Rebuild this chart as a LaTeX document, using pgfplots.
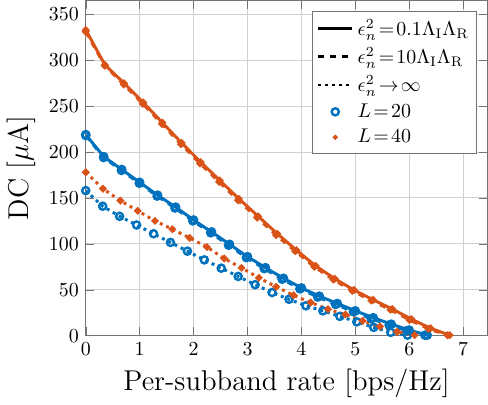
\documentclass[border=0pt]{standalone}
\usepackage{pgfplots}
\pgfplotsset{compat=1.18}
\definecolor{mblue}{RGB}{0,114,189}
\definecolor{morange}{RGB}{217,83,25}
\begin{document}
\begin{tikzpicture}
\begin{axis}[
  scale only axis,
  width=202pt, height=168.5pt,
  xmin=0, xmax=7.45, ymin=0, ymax=365,
  xtick={0,1,...,7}, ytick={0,50,...,350},
  grid=major, major grid style={draw=black!18, line width=0.5pt},
  axis line style={draw=black!55, line width=0.6pt},
  tick style={draw=black!55},
  tick align=inside,
  xlabel={\Large Per-subband rate [bps/Hz]},
  ylabel={\Large DC [$\mu$A]},
  legend style={at={(0.975,0.97)}, anchor=north east, draw=black!55, line width=0.6pt, font=\normalsize, row sep=0.5pt, inner sep=2pt},
  legend cell align=left,
]
\addlegendimage{black, line width=1.5pt}
\addlegendentry{$\epsilon_n^2\!=\!0.1\Lambda_{\mathrm{I}}\Lambda_{\mathrm{R}}$}
\addlegendimage{black, line width=1.5pt, dashed}
\addlegendentry{$\epsilon_n^2\!=\!10\Lambda_{\mathrm{I}}\Lambda_{\mathrm{R}}$}
\addlegendimage{black, line width=1.5pt, dotted}
\addlegendentry{$\epsilon_n^2\!\rightarrow\!\infty$}
\addlegendimage{only marks, mark=o, mark size=1.8pt, draw=mblue, line width=1.2pt}
\addlegendentry{$L\!=\!20$}
\addlegendimage{only marks, mark=*, mark size=1pt, draw=morange, fill=morange}
\addlegendentry{$L\!=\!40$}

% L=20, eps 0.1
\addplot[forget plot, mblue, line width=1.5pt, mark=o, mark size=1.8pt, mark options={solid, line width=1.2pt}] coordinates {
(0,219) (0.333,195) (0.667,181) (1,167) (1.333,153) (1.667,140) (2,126) (2.333,113) (2.667,99.5) (3,86)
(3.333,74) (3.667,62.5) (4,52) (4.333,43) (4.667,35) (5,27) (5.333,19.5) (5.667,12.5) (6,6) (6.333,0.5)};
% L=20, eps 10
\addplot[forget plot, mblue, line width=1.5pt, dashed, mark=o, mark size=1.8pt, mark options={solid, line width=1.2pt}] coordinates {
(0,218) (0.331,194) (0.662,180) (0.993,166) (1.324,152) (1.655,139) (1.986,125) (2.317,112) (2.648,98.5) (2.979,85)
(3.31,73) (3.641,61.5) (3.972,51) (4.303,42) (4.634,34) (4.965,26) (5.296,18.5) (5.627,11.5) (5.958,5.5) (6.29,0.5)};
% L=20, eps inf
\addplot[forget plot, mblue, line width=1.5pt, dotted, mark=o, mark size=1.8pt, mark options={solid, line width=1.2pt}] coordinates {
(0,158) (0.314,141) (0.628,130) (0.943,120.5) (1.257,111) (1.571,101.5) (1.885,92) (2.199,82.5) (2.513,73.5) (2.827,64.5)
(3.142,55.5) (3.456,47) (3.770,39.6) (4.084,32.5) (4.398,27) (4.712,21) (5.027,15) (5.341,9) (5.655,3.6) (5.969,0.5)};
% L=40, eps 0.1
\addplot[forget plot, morange, line width=1.5pt, mark=*, mark size=1pt, mark options={solid}] coordinates {
(0,333) (0.355,295) (0.711,275) (1.066,254) (1.421,232) (1.777,210) (2.132,189) (2.487,169) (2.842,149) (3.198,130)
(3.553,111) (3.908,93) (4.264,76) (4.619,62) (4.974,49.7) (5.330,39) (5.685,29) (6.040,18) (6.395,8) (6.751,0.5)};
% L=40, eps 10
\addplot[forget plot, morange, line width=1.5pt, dashed, mark=*, mark size=1pt, mark options={solid}] coordinates {
(0,331) (0.353,294) (0.706,273.5) (1.06,252.5) (1.413,230.5) (1.766,208.5) (2.119,187.5) (2.472,167.5) (2.825,147.5) (3.178,128.5)
(3.531,109.5) (3.885,92) (4.238,75) (4.591,61) (4.944,48.8) (5.297,38.2) (5.65,28.2) (6.003,17.2) (6.356,7.4) (6.71,0.5)};
% L=40, eps inf
\addplot[forget plot, morange, line width=1.5pt, dotted, mark=*, mark size=1pt, mark options={solid}] coordinates {
(0,178) (0.321,160) (0.642,147) (0.963,136) (1.284,125) (1.605,116) (1.926,106.5) (2.247,96.5) (2.568,84) (2.889,73.8)
(3.21,63) (3.531,53.2) (3.852,44) (4.173,36) (4.494,28.8) (4.815,23) (5.136,16) (5.457,10) (5.778,4.3) (6.099,0.5)};
\end{axis}
\end{tikzpicture}
\end{document}
